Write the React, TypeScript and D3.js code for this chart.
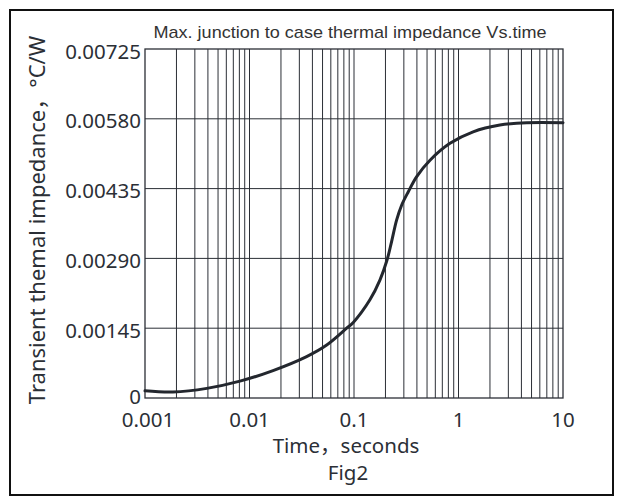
import React from "react";
import * as d3 from "d3";

// values
const timeData = [0.001, 0.00185, 0.0039, 0.0081, 0.0168, 0.0352, 0.0548, 0.0851, 0.0984, 0.142, 0.177, 0.206, 0.229, 0.256, 0.285, 0.33, 0.398, 0.534, 0.829, 1.38, 2.49, 4.5, 10];
const impedanceData = [0.00015, 0.000125, 0.0002, 0.00035, 0.00057, 0.00086, 0.0011, 0.00145, 0.00157, 0.00204, 0.00245, 0.00285, 0.00325, 0.0037, 0.004, 0.00428, 0.0046, 0.00494, 0.00529, 0.00553, 0.00567, 0.00572, 0.00572];

const xTicks = [0.001, 0.01, 0.1, 1, 10];
const xTickLabels = ["0.001", "0.01", "0.1", "1", "10"];
const yTicks = [0, 0.00145, 0.0029, 0.00435, 0.0058, 0.00725];
const yTickLabels = ["0", "0.00145", "0.00290", "0.00435", "0.00580", "0.00725"];

const title = "Max. junction to case thermal impedance Vs.time";
const xLabel = "Time，seconds";
const yLabel = "Transient themal impedance，°C/W";
const caption = "Fig2";

const width = 624, height = 498;
const plot = { left: 145, right: 563, top: 49, bottom: 398 };
const ink = "#2b2f36";
const font = "'Noto Sans', 'Noto Sans CJK SC', sans-serif";

const appendGrid = (selection, xScale, yScale) => {
  const minor = [];
  for (let d = 0.001; d < 10; d *= 10) {
    for (let k = 2; k <= 9; k++) minor.push(+(d * k).toPrecision(3));
  }
  const g = selection.append("g").attr("stroke", ink).attr("stroke-width", 1);
  g.selectAll("line.v")
    .data(minor.concat(xTicks.slice(1, -1)))
    .join("line")
    .attr("x1", d => xScale(d)).attr("x2", d => xScale(d))
    .attr("y1", plot.top).attr("y2", plot.bottom);
  g.selectAll("line.h")
    .data(yTicks.slice(1, -1))
    .join("line")
    .attr("x1", plot.left).attr("x2", plot.right)
    .attr("y1", d => yScale(d)).attr("y2", d => yScale(d));
  selection.append("rect")
    .attr("x", plot.left).attr("y", plot.top)
    .attr("width", plot.right - plot.left).attr("height", plot.bottom - plot.top)
    .attr("fill", "none").attr("stroke", ink).attr("stroke-width", 1.3);
  return selection;
};

const appendLabels = (selection, xScale, yScale) => {
  selection.append("g")
    .selectAll("text")
    .data(yTicks)
    .join("text")
    .attr("x", plot.left - 4)
    .attr("y", (d, i) => yScale(d) + (i === 0 ? -2 : 1.5))
    .attr("text-anchor", "end")
    .attr("dominant-baseline", "central")
    .attr("font-family", font).attr("font-size", 20.5).attr("fill", ink)
    .text((d, i) => yTickLabels[i]);
  selection.append("g")
    .selectAll("text")
    .data(xTicks)
    .join("text")
    .attr("x", (d, i) => xScale(d) + (i === 0 ? 3 : 0))
    .attr("y", plot.bottom + 29)
    .attr("text-anchor", "middle")
    .attr("font-family", font).attr("font-size", 20.5).attr("fill", ink)
    .text((d, i) => xTickLabels[i]);
  selection.append("text")
    .attr("x", 350).attr("y", 37.5)
    .attr("text-anchor", "middle")
    .attr("font-family", "'Liberation Sans', Arial, sans-serif").attr("font-size", 17)
    .attr("textLength", 393).attr("lengthAdjust", "spacingAndGlyphs")
    .attr("fill", "#333").text(title);
  selection.append("text")
    .attr("x", 346).attr("y", 453)
    .attr("text-anchor", "middle")
    .attr("font-family", font).attr("font-size", 20.5).attr("fill", ink)
    .text(xLabel);
  selection.append("text")
    .attr("x", 348).attr("y", 480)
    .attr("text-anchor", "middle")
    .attr("font-family", font).attr("font-size", 20.5).attr("fill", ink)
    .text(caption);
  selection.append("text")
    .attr("transform", "translate(45,220) rotate(-90)")
    .attr("text-anchor", "middle")
    .attr("font-family", font).attr("font-size", 22).attr("fill", ink)
    .text(yLabel);
  return selection;
};

const ThermalChart = () => {
  const ref = React.useRef(null);

  React.useEffect(() => {
    const selection = d3.select(ref.current);
    selection.selectAll("*").remove();
    const xScale = d3.scaleLog([0.001, 10], [plot.left, plot.right]);
    const yScale = d3.scaleLinear([0, 0.00725], [plot.bottom, plot.top]);

    selection.append("rect").attr("width", width).attr("height", height).attr("fill", "#fff");
    selection.append("rect")
      .attr("x", 10).attr("y", 10).attr("width", 603).attr("height", 485)
      .attr("fill", "none").attr("stroke", "#111").attr("stroke-width", 2);

    appendGrid(selection, xScale, yScale);

    const line = d3.line()
      .x((d, i) => xScale(timeData[i]))
      .y(d => yScale(d))
      .curve(d3.curveCatmullRom.alpha(0.5));
    selection.append("path")
      .attr("d", line(impedanceData))
      .attr("fill", "none").attr("stroke", "#23272e").attr("stroke-width", 3)
      .attr("stroke-linecap", "round");

    appendLabels(selection, xScale, yScale);
  }, []);

  return <svg width={width} height={height} ref={ref} style={{ position: "absolute", left: 0, top: 0 }} />;
};

export default function App() {
  return <ThermalChart />;
}
